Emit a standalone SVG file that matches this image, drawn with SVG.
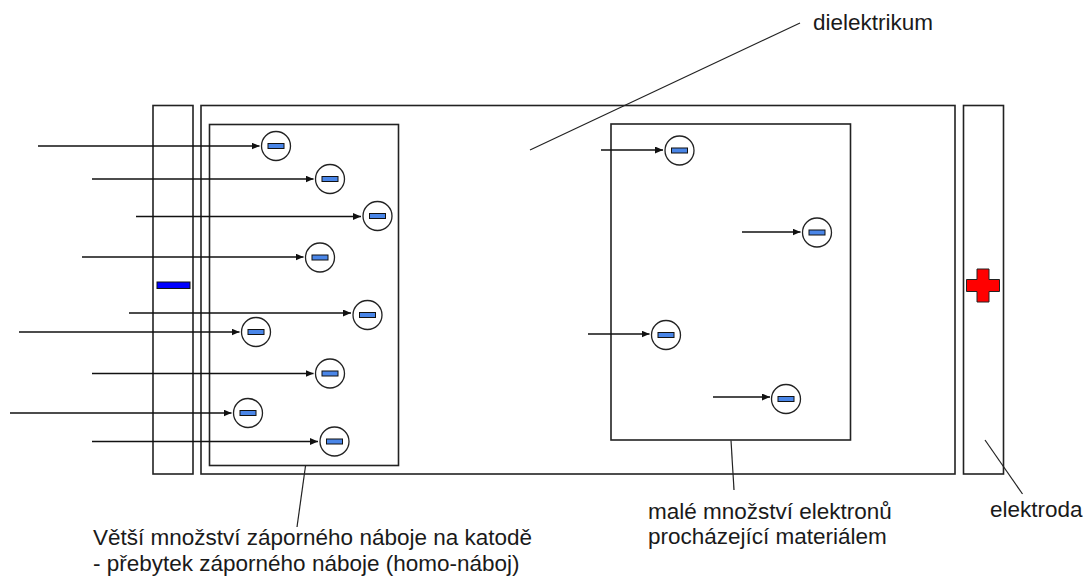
<svg xmlns="http://www.w3.org/2000/svg" width="1086" height="576" viewBox="0 0 1086 576">
  <defs>
    <style>
      .box { fill: none; stroke: #222; stroke-width: 1.6; }
      .wire { stroke: #111; stroke-width: 1.4; fill: none; }
      .lead { stroke: #222; stroke-width: 1.2; fill: none; }
      .ring { fill: #fff; stroke: #222; stroke-width: 1.3; }
      .bar { fill: #4a86e8; stroke: #111; stroke-width: 1; }
      .label { font-family: "Liberation Sans", Arial, sans-serif; font-size: 22.5px; fill: #1a1a1a; }
    </style>
    <marker id="tip" markerUnits="userSpaceOnUse" markerWidth="10" markerHeight="8" refX="8" refY="3.5" orient="auto">
      <path d="M0,0 L8,3.5 L0,7 z" fill="#111"/>
    </marker>
    <g id="electron">
      <circle class="ring" cx="0" cy="0" r="14.5"/>
      <rect class="bar" x="-8" y="-2.5" width="16" height="5"/>
    </g>
  </defs>
  <rect width="1086" height="576" fill="#fff"/>

  <!-- cathode (left electrode) -->
  <g id="cathode">
    <rect class="box" x="153" y="105.5" width="40" height="368.5"/>
    <rect x="157" y="282" width="33" height="6.5" fill="#0000ff" stroke="#111" stroke-width="1"/>
  </g>

  <!-- dielectric body -->
  <g id="dielectric">
    <rect class="box" x="201" y="105.5" width="754" height="368.5"/>
  </g>

  <!-- space-charge region near the cathode -->
  <g id="homo-charge-zone">
    <rect class="box" x="209.5" y="124.5" width="189" height="341"/>
  </g>

  <!-- region of electrons passing through the material -->
  <g id="transit-zone">
    <rect class="box" x="611" y="124" width="239.5" height="316"/>
  </g>

  <!-- anode (right electrode) -->
  <g id="anode">
    <rect class="box" x="963.5" y="105.5" width="40" height="368.5"/>
    <path d="M977,269 H989 V279.5 H999.5 V291.5 H989 V302 H977 V291.5 H966.5 V279.5 H977 Z" fill="#ff0000" stroke="#222" stroke-width="1"/>
  </g>

  <!-- electron drift arrows and callout leaders -->
  <g id="connectors">
    <line class="wire" x1="38" y1="146" x2="259.5" y2="146" marker-end="url(#tip)"/>
    <line class="wire" x1="92" y1="179" x2="313.5" y2="179" marker-end="url(#tip)"/>
    <line class="wire" x1="136" y1="216.5" x2="361" y2="216.5" marker-end="url(#tip)"/>
    <line class="wire" x1="82" y1="257" x2="303.5" y2="257" marker-end="url(#tip)"/>
    <line class="wire" x1="129" y1="313" x2="351" y2="313" marker-end="url(#tip)"/>
    <line class="wire" x1="19" y1="332" x2="239.5" y2="332" marker-end="url(#tip)"/>
    <line class="wire" x1="92" y1="373.5" x2="313.5" y2="373.5" marker-end="url(#tip)"/>
    <line class="wire" x1="10" y1="413" x2="231.5" y2="413" marker-end="url(#tip)"/>
    <line class="wire" x1="92" y1="441.5" x2="318" y2="441.5" marker-end="url(#tip)"/>

    <line class="wire" x1="601" y1="150" x2="663" y2="150" marker-end="url(#tip)"/>
    <line class="wire" x1="742" y1="232" x2="800.5" y2="232" marker-end="url(#tip)"/>
    <line class="wire" x1="588" y1="334" x2="649.5" y2="334" marker-end="url(#tip)"/>
    <line class="wire" x1="713" y1="397" x2="770" y2="397" marker-end="url(#tip)"/>

    <line class="lead" x1="530" y1="150" x2="800" y2="23"/>
    <line class="lead" x1="305.5" y1="466" x2="297" y2="527"/>
    <line class="lead" x1="731" y1="440.5" x2="734" y2="490"/>
    <line class="lead" x1="985" y1="440" x2="1022.5" y2="494"/>
  </g>

  <!-- electrons -->
  <g id="electrons-cathode-side">
    <use href="#electron" x="276" y="146"/>
    <use href="#electron" x="330" y="179"/>
    <use href="#electron" x="377.5" y="216"/>
    <use href="#electron" x="320" y="257.5"/>
    <use href="#electron" x="367.5" y="315"/>
    <use href="#electron" x="256" y="332"/>
    <use href="#electron" x="330" y="373.5"/>
    <use href="#electron" x="248" y="413"/>
    <use href="#electron" x="334.5" y="441.5"/>
  </g>
  <g id="electrons-transit">
    <use href="#electron" x="679.5" y="150.5"/>
    <use href="#electron" x="817" y="232.5"/>
    <use href="#electron" x="666" y="335"/>
    <use href="#electron" x="786" y="399"/>
  </g>

  <!-- labels -->
  <g id="label-dielektrikum">
    <text class="label" x="813" y="30">dielektrikum</text>
  </g>
  <g id="label-homo">
    <text class="label" x="93" y="545">Větší množství záporného náboje na katodě</text>
    <text class="label" x="93" y="570.5">- přebytek záporného náboje (homo-náboj)</text>
  </g>
  <g id="label-transit">
    <text class="label" x="648" y="518.5">malé množství elektronů</text>
    <text class="label" x="648" y="544">procházející materiálem</text>
  </g>
  <g id="label-elektroda">
    <text class="label" x="990" y="517">elektroda</text>
  </g>
</svg>
